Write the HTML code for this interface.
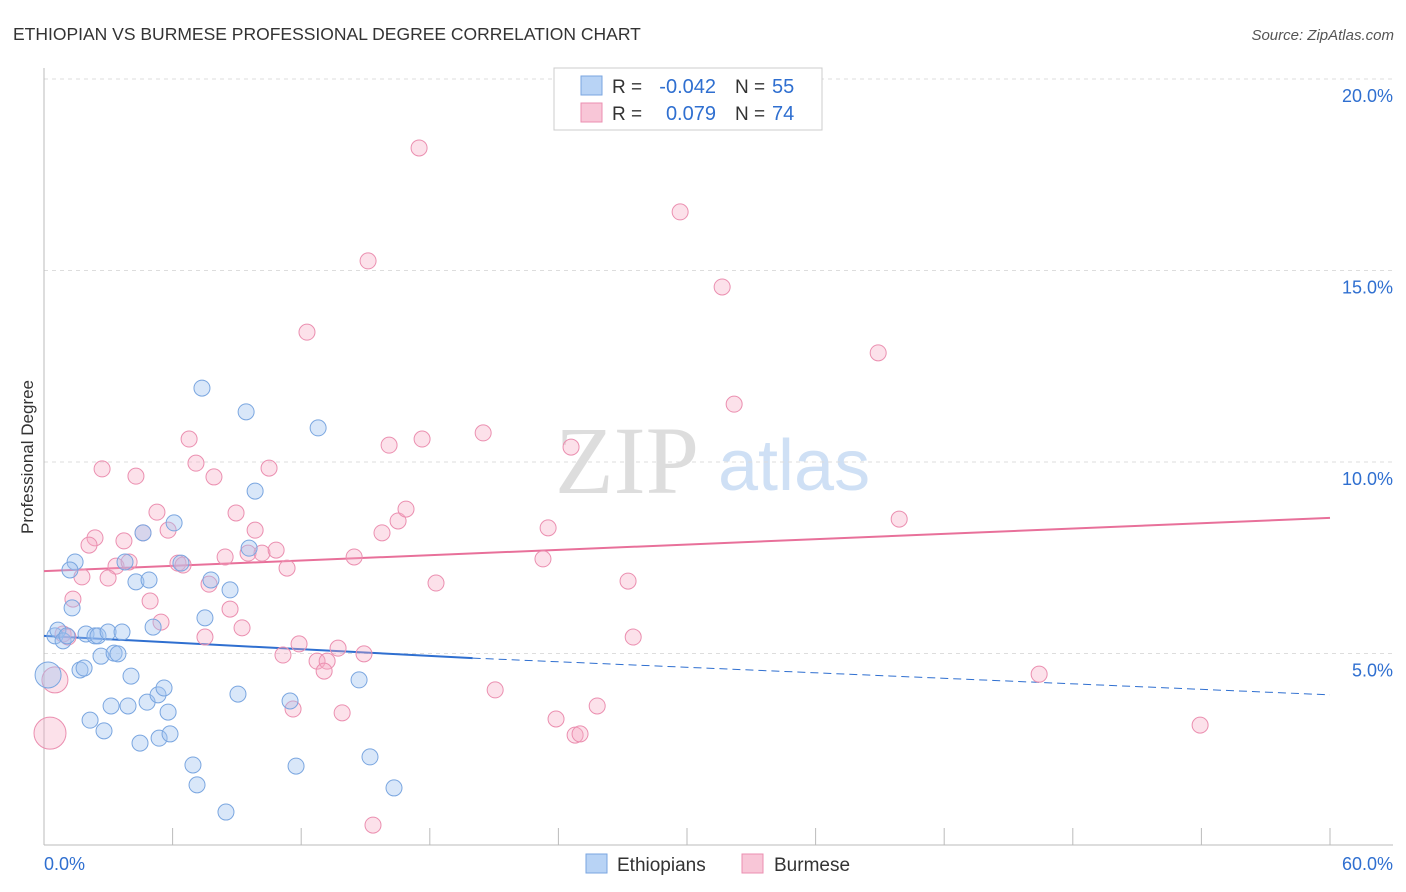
<!DOCTYPE html>
<html><head><meta charset="utf-8"><style>
body{margin:0;background:#fff;font-family:"Liberation Sans",sans-serif;}
svg{display:block}
</style></head><body>
<svg id="chart" width="1406" height="892" viewBox="0 0 1406 892" xmlns="http://www.w3.org/2000/svg">
<text x="13" y="40" font-size="17.5" fill="#333">ETHIOPIAN VS BURMESE PROFESSIONAL DEGREE CORRELATION CHART</text>
<text x="1394" y="40" font-size="15" fill="#555" text-anchor="end" font-style="italic">Source: ZipAtlas.com</text>
<g>
<text x="555" y="493" font-family="Liberation Serif,serif" font-size="96" fill="#ddd">ZIP</text>
<text x="718" y="490" font-size="72" fill="#cfe0f5">atlas</text>
</g>
<g id="grid"></g>
<g id="axes"></g>
<text transform="translate(33,457) rotate(-90)" font-size="17" fill="#333" text-anchor="middle">Professional Degree</text>
<g id="trend"></g>
<g id="points"></g>
<g>
<rect x="554" y="68" width="268" height="62" fill="#fff" stroke="#ccc"/>
<rect x="581" y="76" width="21" height="19" fill="#b8d3f5" stroke="#7aa6e0"/>
<rect x="581" y="103" width="21" height="19" fill="#f8c6d7" stroke="#eb8fb0"/>
<text x="612" y="93" font-size="19" fill="#333">R =</text>
<text x="716" y="93" font-size="20" fill="#2f6fd0" text-anchor="end">-0.042</text>
<text x="735" y="93" font-size="19" fill="#333">N =</text>
<text x="772" y="93" font-size="20" fill="#2f6fd0">55</text>
<text x="612" y="120" font-size="19" fill="#333">R =</text>
<text x="716" y="120" font-size="20" fill="#2f6fd0" text-anchor="end">0.079</text>
<text x="735" y="120" font-size="19" fill="#333">N =</text>
<text x="772" y="120" font-size="20" fill="#2f6fd0">74</text>
</g>
<g>
<rect x="586" y="854" width="21" height="19" fill="#b8d3f5" stroke="#7aa6e0"/>
<text x="617" y="871" font-size="19" fill="#333">Ethiopians</text>
<rect x="742" y="854" width="21" height="19" fill="#f8c6d7" stroke="#eb8fb0"/>
<text x="774" y="871" font-size="19" fill="#333">Burmese</text>
</g>
</svg>
<script>
const blueX=[0.51,0.65,0.89,1.07,1.45,1.21,1.31,1.68,1.87,1.96,2.15,2.38,2.52,2.66,2.80,2.99,3.13,3.27,3.45,3.64,3.92,4.06,3.78,4.29,4.48,4.62,4.81,4.90,5.09,5.32,5.37,5.60,5.79,5.88,6.07,6.39,6.95,7.14,7.37,7.51,7.79,8.49,8.68,9.05,9.43,9.57,9.85,11.48,11.76,12.79,14.70,15.21,16.33,0.19];
const blueY=[5.46,5.61,5.33,5.46,7.39,7.18,6.19,4.57,4.62,5.51,3.26,5.46,5.46,4.93,2.98,5.56,3.63,5.01,4.99,5.56,3.63,4.41,7.39,6.87,2.66,8.15,3.73,6.92,5.69,3.92,2.79,4.10,3.47,2.90,8.41,7.36,2.09,1.57,11.93,5.93,6.92,0.86,6.66,3.94,11.31,7.75,9.24,3.76,2.06,10.89,4.31,2.30,1.49,4.44];
const blueR=[8,8,8,8,8,8,8,8,8,8,8,8,8,8,8,8,8,8,8,8,8,8,8,8,8,8,8,8,8,8,8,8,8,8,8,8,8,8,8,8,8,8,8,8,8,8,8,8,8,8,8,8,8,13];
const pinkX=[17.50,29.68,31.64,15.12,12.27,38.92,32.20,6.77,2.71,4.29,7.09,7.93,10.50,16.10,17.64,20.49,24.59,5.27,8.96,5.79,9.85,16.52,16.89,15.77,23.52,39.90,2.38,2.10,3.73,4.62,3.36,3.97,6.25,6.49,8.45,9.52,10.17,10.83,11.34,14.47,23.28,1.77,2.99,7.70,18.29,27.25,1.35,4.95,5.46,8.68,9.24,0.89,7.51,1.12,11.90,11.15,13.72,14.93,12.74,13.21,13.07,27.49,46.43,21.05,11.62,13.91,23.89,25.81,24.78,25.01,53.94,15.35,0.51,0.28];
const pinkY=[18.20,16.53,14.57,15.25,13.39,12.85,11.51,10.60,9.82,9.63,9.97,9.61,9.84,10.44,10.60,10.76,10.39,8.69,8.67,8.22,8.22,8.46,8.77,8.15,8.28,8.51,8.02,7.83,7.94,8.15,7.28,7.39,7.36,7.31,7.52,7.62,7.62,7.70,7.23,7.52,7.47,7.00,6.97,6.81,6.84,6.89,6.42,6.37,5.82,6.16,5.67,5.51,5.43,5.43,5.25,4.96,5.14,4.99,4.80,4.80,4.54,5.43,4.46,4.05,3.55,3.45,3.29,3.63,2.87,2.90,3.13,0.52,4.31,2.92];
const blueTrend=[5.46,4.88,3.92]; // at x=0, 20, 60
const pinkTrend=[7.15,8.54]; // at x=0,60
const yTicks=[5,10,15,20];
const yTickLabels=["5.0%","10.0%","15.0%","20.0%"];
const xTicks=[0,6,12,18,24,30,36,42,48,54,60];
const NS="http://www.w3.org/2000/svg";
const X=v=>44+v*(1286/60);
const Y=v=>845-v*38.3;
function mk(t,a,p){const e=document.createElementNS(NS,t);for(const k in a)e.setAttribute(k,a[k]);p.appendChild(e);return e;}
const grid=document.getElementById('grid'),axes=document.getElementById('axes');
yTicks.forEach((t,i)=>{
 const l=mk('line',{x1:44,x2:1393,y1:Y(t),y2:Y(t),stroke:'#ddd','stroke-dasharray':'4,4'},grid);
 
 
 const tx=mk('text',{x:1393,y:Y(t)+23,'font-size':18,fill:'#2f6fd0','text-anchor':'end'},axes);
 tx.textContent=yTickLabels[i];
 
 
});
const ax=mk('line',{x1:44,x2:1393,y1:845,y2:845,stroke:'#bbb'},axes);


const ay=mk('line',{x1:44,x2:44,y1:68,y2:845,stroke:'#bbb'},axes);


xTicks.forEach(t=>{
 const l=mk('line',{x1:X(t),x2:X(t),y1:828,y2:845,stroke:'#bbb'},axes);
 
 
});
const x0=mk('text',{x:44,y:870,'font-size':18,fill:'#2f6fd0'},axes);x0.textContent='0.0%';


const x1=mk('text',{x:1393,y:870,'font-size':18,fill:'#2f6fd0','text-anchor':'end'},axes);x1.textContent='60.0%';


const pts=document.getElementById('points');
pinkX.forEach((x,i)=>{
 const r=i===72?13:(i===73?16:8);
 const c=mk('circle',{cx:X(x),cy:Y(pinkY[i]),r:r,fill:'rgba(245,170,195,0.35)',stroke:'#eb8fb0','stroke-width':1},pts);
 
 
});
blueX.forEach((x,i)=>{
 const c=mk('circle',{cx:X(x),cy:Y(blueY[i]),r:blueR[i],fill:'rgba(160,196,240,0.4)',stroke:'#7aa6e0','stroke-width':1},pts);
 
 
});
const tr=document.getElementById('trend');
const bt=mk('line',{x1:X(0),y1:Y(blueTrend[0]),x2:X(20),y2:Y(blueTrend[1]),stroke:'#2f6fd0','stroke-width':2},tr);


const bd=mk('line',{x1:X(20),y1:Y(blueTrend[1]),x2:X(60),y2:Y(blueTrend[2]),stroke:'#2f6fd0','stroke-width':1,'stroke-dasharray':'8,5'},tr);


const pt=mk('line',{x1:X(0),y1:Y(pinkTrend[0]),x2:X(60),y2:Y(pinkTrend[1]),stroke:'#e8709a','stroke-width':2},tr);


</script>
</body></html>
